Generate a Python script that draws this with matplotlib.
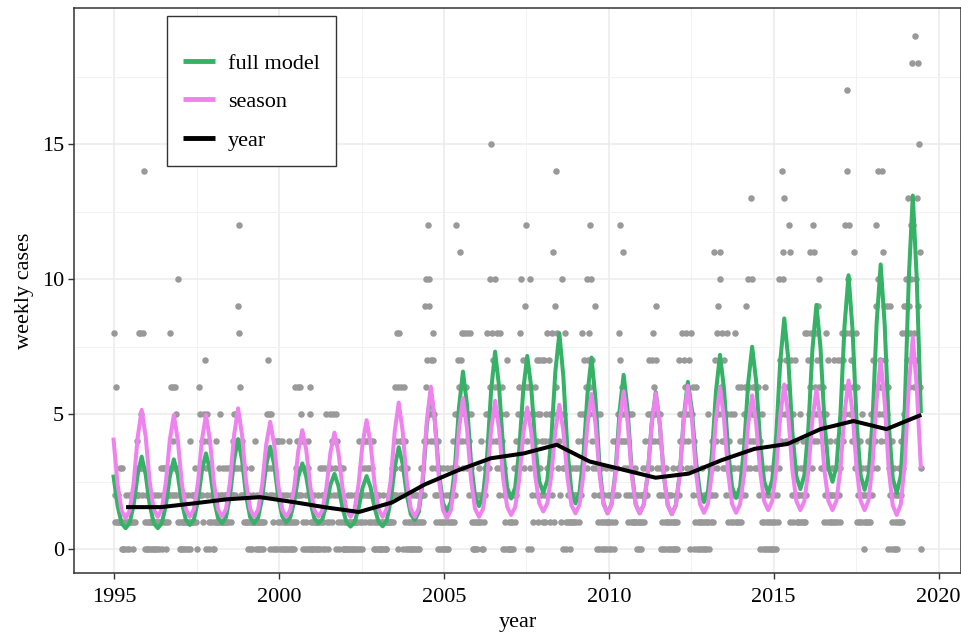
import numpy as np
import matplotlib
matplotlib.use("Agg")
import matplotlib.pyplot as plt
from matplotlib.lines import Line2D

# weekly case counts, one string per year, one character per week (base 36: a=10 ... j=19)
weekly_cases_by_year = [
    "8216212113110" "3010121011201" "2120122123422" "83835283e1020",  # 1995
    "1021011201012" "0110210131023" "1321023122863" "246326253a120",  # 1996
    "1020110210110" "2104121121321" "2023652342145" "7032540132122",  # 1997
    "0102141213152" "1213121231213" "2312324532534" "98c6324321232",  # 1998
    "1210120131021" "1401201102101" "2013232573520" "5320130424014",  # 1999
    "4012041021012" "0140120102106" "1342642652410" "3402104306510",  # 2000
    "0102101102013" "0123012035120" "3152341524305" "2413021320310",  # 2001
    "0101201010210" "1021011024103" "1042314234213" "4213240120102",  # 2002
    "1020101021010" "0121121213212" "6324860842634" "0261403201201",  # 2003
    "0120102101201" "0231231429a64" "7ca9574378542" "1320413021031",  # 2004
    "0102031021231" "243152c35746b" "5748368546385" "4283510201012",  # 2005
    "0213124102013" "2538453a6f485" "75a6483542835" "6402301527010",  # 2006
    "0102103214235" "34685a4673956" "c4065a3062415" "3627451735274",  # 2007
    "1724158327415" "328b419e65835" "4251a30538103" "2130121312132",  # 2008
    "2132415324835" "7456a3758c6a4" "7352943051205" "1302102130121",  # 2009
    "1023012403124" "3528c7465b435" "4253142531251" "2131210210102",  # 2010
    "2132142325347" "5437856457935" "4253021302103" "1201201201301",  # 2011
    "0120137245348" "5476853647508" "3526041630210" "1201301201021",  # 2012
    "5102312413b27" "483957ab64837" "4352851342513" "2135812136124",  # 2013
    "16243562493a5" "643d5a6453645" "3562403150216" "0310210310201",  # 2014
    "021032413a754" "eba6d574657cb" "1472513724132" "1251312413812",  # 2015
    "83745b6835c4b" "6857496a53546" "3142581372142" "1321731241732",  # 2016
    "13785476c58he" "ac68577465b38" "4162314213521" "0213124121352",  # 2017
    "73546c93ea576" "4e6b596749506" "3920412031021" "0213124183958",  # 2018
    "9a7d8698cai7c" "86ja7d9ifb630",                                  # 2019 (half year)
]
first_year = 1995

# fitted curves, sampled every model_step years from model_start
model_start = 1994.98
model_step = 0.1218
full_model = [
    2.69, 1.61, 0.96,
    0.78, 0.97, 1.64, 2.76, 3.43, 2.76, 1.64, 0.97,
    0.78, 0.96, 1.61, 2.69, 3.33, 2.75, 1.73, 1.09,
    0.90, 1.10, 1.79, 2.91, 3.55, 2.93, 1.85, 1.16,
    0.96, 1.19, 1.98, 3.30, 4.08, 3.30, 1.98, 1.19,
    0.96, 1.17, 1.91, 3.11, 3.80, 3.13, 1.95, 1.22,
    1.00, 1.18, 1.78, 2.69, 3.18, 2.67, 1.75, 1.14,
    0.96, 1.12, 1.64, 2.39, 2.79, 2.34, 1.53, 1.00,
    0.84, 1.00, 1.51, 2.28, 2.71, 2.29, 1.52, 1.01,
    0.85, 1.06, 1.79, 3.04, 3.78, 3.15, 2.02, 1.30,
    1.08, 1.38, 2.51, 4.57, 5.85, 4.75, 2.86, 1.72,
    1.40, 1.76, 3.04, 5.25, 6.58, 5.35, 3.24, 1.97,
    1.60, 2.00, 3.42, 5.86, 7.32, 6.00, 3.71, 2.29,
    1.88, 2.29, 3.67, 5.89, 7.16, 5.99, 3.88, 2.51,
    2.10, 2.55, 4.10, 6.58, 8.00, 6.38, 3.69, 2.13,
    1.70, 2.09, 3.47, 5.76, 7.10, 5.56, 3.07, 1.70,
    1.33, 1.67, 2.93, 5.13, 6.46, 5.13, 2.93, 1.67,
    1.33, 1.65, 2.77, 4.67, 5.82, 4.66, 2.74, 1.62,
    1.30, 1.63, 2.84, 4.94, 6.20, 5.15, 3.29, 2.11,
    1.75, 2.15, 3.55, 5.86, 7.20, 5.93, 3.70, 2.31,
    1.90, 2.32, 3.78, 6.14, 7.50, 6.22, 3.95, 2.51,
    2.08, 2.56, 4.22, 6.96, 8.55, 7.03, 4.37, 2.71,
    2.23, 2.74, 4.49, 7.38, 9.05, 7.50, 4.76, 3.02,
    2.50, 3.07, 5.04, 8.27, 10.15, 8.12, 4.73, 2.75,
    2.20, 2.77, 4.82, 8.39, 10.55, 8.32, 4.68, 2.64,
    2.08, 2.72, 5.22, 10.02, 13.10, 9.95, 5.12,
]
season = [
    4.06, 2.40, 1.43,
    1.15, 1.43, 2.44, 4.14, 5.16, 4.17, 2.49, 1.48,
    1.20, 1.48, 2.44, 4.04, 4.97, 4.04, 2.44, 1.48,
    1.20, 1.48, 2.44, 4.04, 4.97, 4.04, 2.44, 1.48,
    1.20, 1.49, 2.50, 4.21, 5.22, 4.21, 2.50, 1.49,
    1.20, 1.47, 2.38, 3.87, 4.72, 3.87, 2.38, 1.47,
    1.20, 1.45, 2.30, 3.65, 4.41, 3.65, 2.30, 1.45,
    1.20, 1.45, 2.28, 3.58, 4.32, 3.58, 2.28, 1.45,
    1.20, 1.47, 2.40, 3.91, 4.78, 3.91, 2.40, 1.47,
    1.20, 1.50, 2.55, 4.35, 5.43, 4.35, 2.55, 1.50,
    1.20, 1.52, 2.69, 4.76, 6.02, 4.73, 2.63, 1.46,
    1.15, 1.45, 2.54, 4.44, 5.60, 4.47, 2.59, 1.50,
    1.20, 1.50, 2.57, 4.40, 5.50, 4.44, 2.64, 1.57,
    1.27, 1.56, 2.58, 4.27, 5.25, 4.33, 2.71, 1.70,
    1.40, 1.70, 2.74, 4.40, 5.35, 4.37, 2.67, 1.63,
    1.33, 1.65, 2.77, 4.64, 5.75, 4.64, 2.77, 1.65,
    1.33, 1.65, 2.79, 4.71, 5.85, 4.71, 2.79, 1.65,
    1.33, 1.65, 2.77, 4.66, 5.78, 4.65, 2.74, 1.62,
    1.30, 1.63, 2.80, 4.83, 6.05, 4.86, 2.86, 1.68,
    1.35, 1.68, 2.85, 4.83, 6.00, 4.83, 2.85, 1.68,
    1.35, 1.67, 2.77, 4.62, 5.70, 4.67, 2.88, 1.77,
    1.45, 1.79, 2.97, 4.95, 6.10, 4.95, 2.97, 1.79,
    1.45, 1.78, 2.92, 4.81, 5.90, 4.81, 2.92, 1.78,
    1.45, 1.80, 3.01, 5.05, 6.25, 5.05, 3.01, 1.80,
    1.45, 1.82, 3.19, 5.56, 7.00, 5.46, 2.98, 1.63,
    1.27, 1.66, 3.16, 6.02, 7.85, 5.97, 3.07,
]

# yearly trend, plotted at mid-year
trend_years = list(range(1995, 2020))
year_trend = [1.56, 1.56, 1.70, 1.85, 1.93, 1.75, 1.55, 1.38, 1.73, 2.40,
              2.92, 3.37, 3.55, 3.87, 3.25, 2.95, 2.65, 2.80, 3.30, 3.72,
              3.90, 4.45, 4.75, 4.45, 4.95]

x_ticks = [1995, 2000, 2005, 2010, 2015, 2020]
y_ticks = [0, 5, 10, 15]

plt.rcParams["font.family"] = ["Liberation Serif", "DejaVu Serif"]

cases = np.array([int(c, 36) for c in "".join(weekly_cases_by_year)])
weeks = first_year + np.arange(len(cases)) / 52
t_model = model_start + model_step * np.arange(len(full_model))
t_year = np.array(trend_years) + 0.42

fig = plt.figure(figsize=(9.62, 6.35), dpi=100)
ax = fig.add_axes([74 / 962, 62 / 635, 887 / 962, 565 / 635])

ax.scatter(weeks, cases, s=22, color="#999999", linewidths=0, zorder=2)
green, pink = "#35b266", "#ee82ee"
ax.plot(t_model, full_model, color=green, lw=2.9, zorder=3)
ax.plot(t_model, season, color=pink, lw=2.9, zorder=4)
ax.plot(t_year, year_trend, color="black", lw=2.9, zorder=5)

ax.set_xlim(1993.78, 2020.68)
ax.set_ylim(-0.88, 20.05)
ax.set_xticks(x_ticks)
ax.set_xticks([t + 2.5 for t in x_ticks[:-1]], minor=True)
ax.set_yticks(y_ticks)
ax.set_yticks([t + 2.5 for t in y_ticks], minor=True)
ax.set_axisbelow(True)
ax.grid(which="major", color="#ebebeb", lw=1.1)
ax.grid(which="minor", color="#f2f2f2", lw=0.7)
ax.tick_params(which="major", length=4, width=1, color="#333333",
               labelsize=16, labelcolor="black")
ax.tick_params(axis="x", which="major", pad=7)
ax.tick_params(axis="y", which="major", pad=3)
ax.tick_params(which="minor", length=0)
for sp in ax.spines.values():
    sp.set_color("#333333")
    sp.set_linewidth(1.1)

ax.set_xlabel("year", fontsize=16, labelpad=4)
ax.set_ylabel("weekly cases", fontsize=16, labelpad=6)

handles = [Line2D([], [], color=c, lw=3.5, solid_capstyle="butt")
           for c in (green, pink, "black")]
leg = ax.legend(handles, ["full model", "season", "year"], loc="upper left",
                bbox_to_anchor=(167 / 962, 1 - 16 / 635), bbox_transform=fig.transFigure,
                frameon=True, fancybox=False, framealpha=1, edgecolor="#333333",
                fontsize=16, handlelength=1.45, handletextpad=0.6, borderpad=0.7,
                labelspacing=0.8, borderaxespad=0, title=" ", title_fontsize=3)
leg.get_frame().set_linewidth(1.0)

fig.savefig("out.png", dpi=100)
